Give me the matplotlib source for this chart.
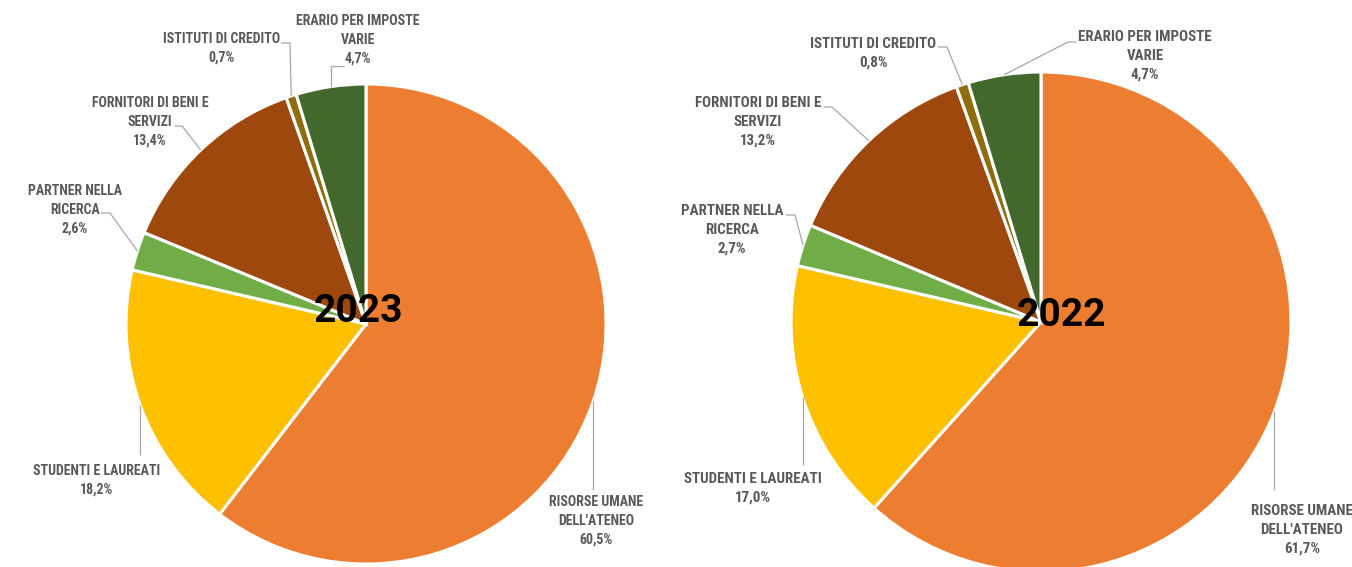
import matplotlib
matplotlib.use("Agg")
import matplotlib.pyplot as plt
from matplotlib import font_manager
import numpy as np

# Distribuzione del valore aggiunto per categoria di stakeholder
categories = [
    "RISORSE UMANE\nDELL'ATENEO",
    "STUDENTI E LAUREATI",
    "PARTNER NELLA\nRICERCA",
    "FORNITORI DI BENI E\nSERVIZI",
    "ISTITUTI DI CREDITO",
    "ERARIO PER IMPOSTE\nVARIE",
]
values_2023 = [60.5, 18.2, 2.6, 13.4, 0.7, 4.7]
values_2022 = [61.7, 17.0, 2.7, 13.2, 0.8, 4.7]
years = ["2023", "2022"]
colors = ["#ED7D31", "#FFC000", "#70AD47", "#9E480E", "#8F6C0C", "#43682B"]

W, H = 1352, 567


def pick_font(candidates):
    names = {f.name for f in font_manager.fontManager.ttflist}
    for c in candidates:
        if c in names:
            return c
    return "DejaVu Sans"


label_font = pick_font(["Liberation Sans Narrow", "Roboto Condensed", "DejaVu Sans"])
year_font = pick_font(["Roboto", "DejaVu Sans"])

fig = plt.figure(figsize=(W / 100, H / 100), dpi=100)
ax = fig.add_axes([0, 0, 1, 1])
ax.set_xlim(0, W)
ax.set_ylim(0, H)
ax.set_aspect("equal")
ax.axis("off")


def fmt(v):
    return f"{v:.1f}".replace(".", ",") + "%"


def draw_pie(values, center_px, radius, year, year_pos, layout, fsize):
    cx, cy = center_px[0], H - center_px[1]
    wedges, _ = ax.pie(values, colors=colors, startangle=90, counterclock=False,
                       center=(cx, cy), radius=radius,
                       wedgeprops=dict(edgecolor="white", linewidth=2.2))
    ax.set_xlim(0, W)
    ax.set_ylim(0, H)
    for w, cat, v, lay in zip(wedges, categories, values, layout):
        mid = np.deg2rad((w.theta1 + w.theta2) / 2)
        ex, ey = cx + radius * np.cos(mid), cy + radius * np.sin(mid)
        (tx, ty), path = lay
        xs = [ex]
        ys = [ey]
        for px, py in path:
            xs.append(ex if px is None else px)
            ys.append(H - py)
        ax.plot(xs, ys, color="#A6A6A6", lw=0.9, solid_capstyle="butt")
        ax.text(tx, H - ty, f"{cat}\n{fmt(v)}", ha="center", va="center",
                fontsize=fsize, fontfamily=label_font, fontweight="bold",
                color="#595959", linespacing=1.45)
    ax.text(year_pos[0], H - year_pos[1], year, ha="center", va="center",
            fontsize=28, fontfamily=year_font, fontweight="semibold", color="black")


layout_2023 = [
    ((596, 521), [(None, 490)]),
    ((97, 480), [(None, 455)]),
    ((75, 210), [(110, 213), (101, 213)]),
    ((150, 122), [(182, 126), (175, 126)]),
    ((222, 48), [(290, 43), (281, 43)]),
    ((358, 40), [(None, 66), (344, 66)]),
]
layout_2022 = [
    ((1302, 530), [(None, 490)]),
    ((753, 488), [(None, 465)]),
    ((732, 230), [(795, 215), (786, 215)]),
    ((758, 122), [(832, 107), (824, 107)]),
    ((873, 53), [(947, 47), (938, 47)]),
    ((1145, 56), [(1068, 42), (1076, 42)]),
]

draw_pie(values_2023, (366, 324), 240, years[0], (358, 311), layout_2023, 10)
draw_pie(values_2022, (1041, 322), 250, years[1], (1061, 316), layout_2022, 10.8)

fig.savefig("out.png", dpi=100, facecolor="white")
